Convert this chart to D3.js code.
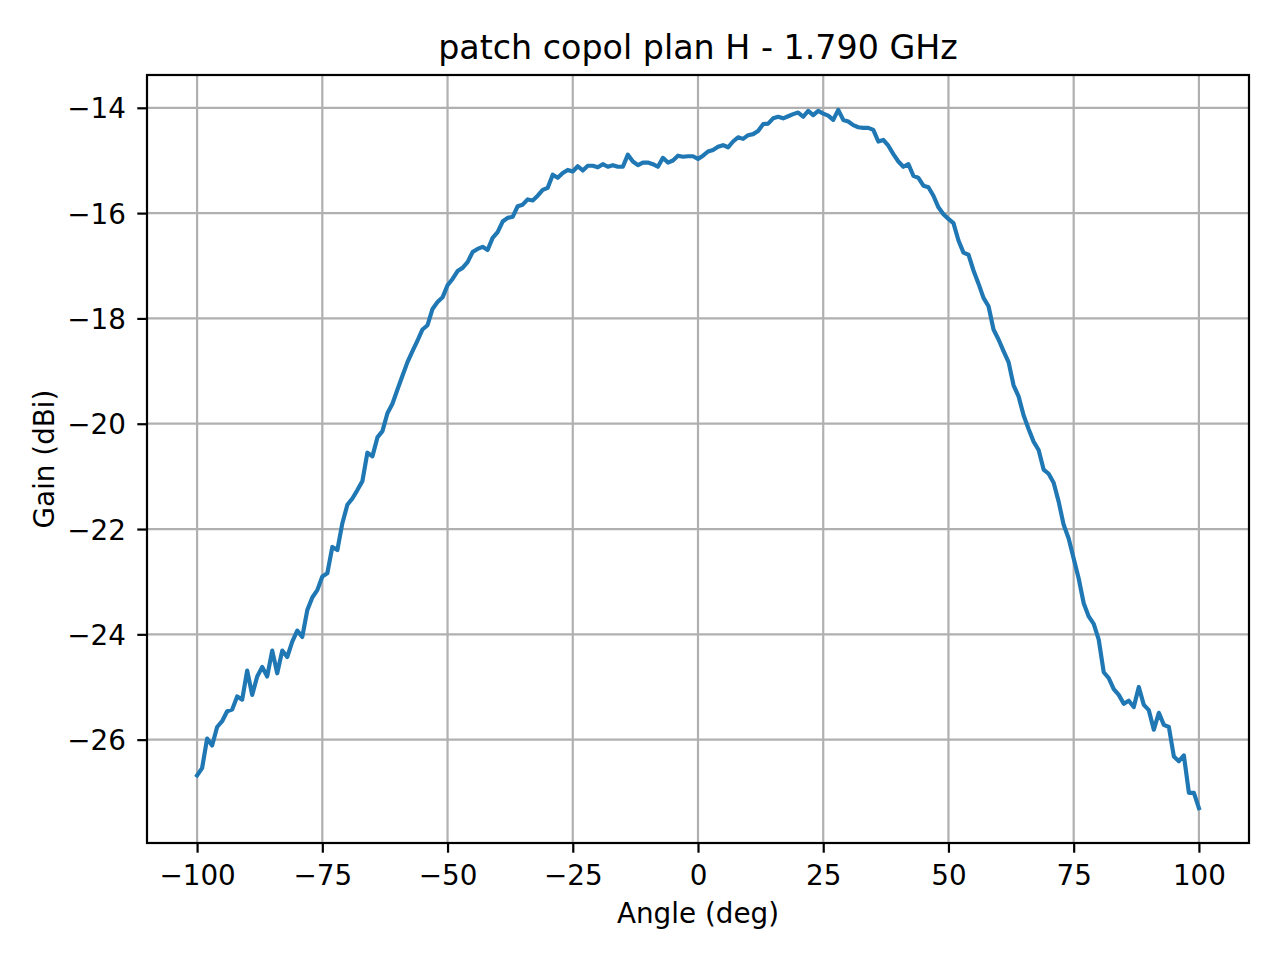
<!DOCTYPE html>
<html>
<head>
<meta charset="utf-8">
<script src="https://cdn.jsdelivr.net/npm/d3@7"></script>
<style>
  body { margin: 0; background: #fff; }
  text { font-family: "DejaVu Sans", sans-serif; fill: #000; }
</style>
</head>
<body>
<div id="chart"></div>
<script>
const title = "patch copol plan H - 1.790 GHz";
const xLabel = "Angle (deg)";
const yLabel = "Gain (dBi)";

const angles = [
  -100, -99, -98, -97, -96, -95, -94, -93, -92, -91,
  -90, -89, -88, -87, -86, -85, -84, -83, -82, -81,
  -80, -79, -78, -77, -76, -75, -74, -73, -72, -71,
  -70, -69, -68, -67, -66, -65, -64, -63, -62, -61,
  -60, -59, -58, -57, -56, -55, -54, -53, -52, -51,
  -50, -49, -48, -47, -46, -45, -44, -43, -42, -41,
  -40, -39, -38, -37, -36, -35, -34, -33, -32, -31,
  -30, -29, -28, -27, -26, -25, -24, -23, -22, -21,
  -20, -19, -18, -17, -16, -15, -14, -13, -12, -11,
  -10, -9, -8, -7, -6, -5, -4, -3, -2, -1,
  0, 1, 2, 3, 4, 5, 6, 7, 8, 9,
  10, 11, 12, 13, 14, 15, 16, 17, 18, 19,
  20, 21, 22, 23, 24, 25, 26, 27, 28, 29,
  30, 31, 32, 33, 34, 35, 36, 37, 38, 39,
  40, 41, 42, 43, 44, 45, 46, 47, 48, 49,
  50, 51, 52, 53, 54, 55, 56, 57, 58, 59,
  60, 61, 62, 63, 64, 65, 66, 67, 68, 69,
  70, 71, 72, 73, 74, 75, 76, 77, 78, 79,
  80, 81, 82, 83, 84, 85, 86, 87, 88, 89,
  90, 91, 92, 93, 94, 95, 96, 97, 98, 99,
  100
];

const gain = [
  -26.68, -26.54, -25.98, -26.11, -25.76, -25.65, -25.46, -25.43, -25.18, -25.24,
  -24.69, -25.15, -24.80, -24.62, -24.80, -24.31, -24.74, -24.31, -24.43, -24.14,
  -23.93, -24.05, -23.54, -23.30, -23.16, -22.90, -22.84, -22.34, -22.40, -21.89,
  -21.54, -21.42, -21.26, -21.09, -20.55, -20.62, -20.26, -20.14, -19.80, -19.62,
  -19.35, -19.09, -18.83, -18.62, -18.42, -18.21, -18.13, -17.82, -17.69, -17.60,
  -17.37, -17.25, -17.10, -17.04, -16.93, -16.74, -16.68, -16.64, -16.70, -16.47,
  -16.36, -16.16, -16.09, -16.07, -15.87, -15.84, -15.74, -15.76, -15.67, -15.56,
  -15.52, -15.27, -15.33, -15.24, -15.18, -15.21, -15.11, -15.19, -15.10, -15.10,
  -15.13, -15.07, -15.12, -15.09, -15.12, -15.12, -14.89, -15.02, -15.09, -15.04,
  -15.04, -15.07, -15.12, -14.95, -15.04, -15.00, -14.91, -14.93, -14.92, -14.92,
  -14.97, -14.91, -14.83, -14.80, -14.74, -14.71, -14.75, -14.64, -14.56, -14.59,
  -14.52, -14.50, -14.44, -14.31, -14.30, -14.20, -14.17, -14.20, -14.16, -14.12,
  -14.09, -14.17, -14.06, -14.14, -14.06, -14.11, -14.15, -14.23, -14.04, -14.23,
  -14.26, -14.33, -14.37, -14.38, -14.38, -14.42, -14.64, -14.61, -14.72, -14.88,
  -15.02, -15.12, -15.07, -15.29, -15.33, -15.48, -15.51, -15.67, -15.89, -16.02,
  -16.11, -16.19, -16.52, -16.75, -16.79, -17.09, -17.34, -17.61, -17.77, -18.21,
  -18.40, -18.62, -18.83, -19.27, -19.48, -19.84, -20.10, -20.34, -20.50, -20.87,
  -20.95, -21.12, -21.48, -21.92, -22.18, -22.56, -22.94, -23.41, -23.66, -23.80,
  -24.10, -24.72, -24.83, -25.04, -25.15, -25.32, -25.26, -25.38, -25.00, -25.34,
  -25.44, -25.81, -25.49, -25.72, -25.76, -26.32, -26.41, -26.30, -27.01, -27.01,
  -27.30
];

const xTicks = [-100, -75, -50, -25, 0, 25, 50, 75, 100];
const yTicks = [-26, -24, -22, -20, -18, -16, -14];

const width = 1280, height = 960;
const margin = { top: 75, right: 31, bottom: 117, left: 147 };
const innerW = width - margin.left - margin.right;
const innerH = height - margin.top - margin.bottom;

const data = angles.map((a, i) => ({ angle: a, gain: gain[i] }));

// matplotlib style 5% padding around the data range
const xExt = d3.extent(angles);
const yExt = d3.extent(gain);
const xPad = (xExt[1] - xExt[0]) * 0.05;
const yPad = (yExt[1] - yExt[0]) * 0.05;

const x = d3.scaleLinear()
  .domain([xExt[0] - xPad, xExt[1] + xPad])
  .range([0, innerW]);

const y = d3.scaleLinear()
  .domain([yExt[0] - yPad, yExt[1] + yPad])
  .range([innerH, 0]);

const fmt = d => (d < 0 ? "\u2212" + Math.abs(d) : String(d));

const svg = d3.select("#chart")
  .append("svg")
  .attr("width", width)
  .attr("height", height);

svg.append("rect")
  .attr("width", width)
  .attr("height", height)
  .attr("fill", "#fff");

const g = svg.append("g")
  .attr("transform", `translate(${margin.left},${margin.top})`);

// grid
g.append("g")
  .selectAll("line")
  .data(xTicks)
  .join("line")
  .attr("x1", d => x(d)).attr("x2", d => x(d))
  .attr("y1", 0).attr("y2", innerH)
  .attr("stroke", "#b0b0b0")
  .attr("stroke-width", 2.2);

g.append("g")
  .selectAll("line")
  .data(yTicks)
  .join("line")
  .attr("x1", 0).attr("x2", innerW)
  .attr("y1", d => y(d)).attr("y2", d => y(d))
  .attr("stroke", "#b0b0b0")
  .attr("stroke-width", 2.2);

// the curve
const line = d3.line()
  .x(d => x(d.angle))
  .y(d => y(d.gain));

g.append("path")
  .datum(data)
  .attr("d", line)
  .attr("fill", "none")
  .attr("stroke", "#1f77b4")
  .attr("stroke-width", 4.17)
  .attr("stroke-linejoin", "round")
  .attr("stroke-linecap", "square");

// axes
const xAxis = g.append("g")
  .attr("transform", `translate(0,${innerH})`)
  .call(d3.axisBottom(x).tickValues(xTicks).tickFormat(fmt).tickSize(9.7).tickPadding(0));

const yAxis = g.append("g")
  .call(d3.axisLeft(y).tickValues(yTicks).tickFormat(fmt).tickSize(9.7).tickPadding(0));

[xAxis, yAxis].forEach(ax => {
  ax.select(".domain").remove();
  ax.selectAll(".tick line").attr("stroke", "#000").attr("stroke-width", 2.2);
  ax.selectAll(".tick text")
    .attr("font-size", 27.8)
    .attr("font-family", "DejaVu Sans")
    .attr("fill", "#000");
});

xAxis.selectAll(".tick text")
  .attr("dy", null)
  .attr("y", 41.5);

yAxis.selectAll(".tick text")
  .attr("dy", null)
  .attr("x", -21)
  .attr("y", 10);

// frame
g.append("rect")
  .attr("width", innerW)
  .attr("height", innerH)
  .attr("fill", "none")
  .attr("stroke", "#000")
  .attr("stroke-width", 2.2);

// labels
svg.append("text")
  .attr("x", margin.left + innerW / 2)
  .attr("y", 59)
  .attr("text-anchor", "middle")
  .attr("font-size", 33.3)
  .text(title);

svg.append("text")
  .attr("x", margin.left + innerW / 2)
  .attr("y", 923)
  .attr("text-anchor", "middle")
  .attr("font-size", 27.8)
  .text(xLabel);

svg.append("text")
  .attr("transform", `translate(54,${margin.top + innerH / 2}) rotate(-90)`)
  .attr("text-anchor", "middle")
  .attr("font-size", 27.8)
  .text(yLabel);
</script>
</body>
</html>
